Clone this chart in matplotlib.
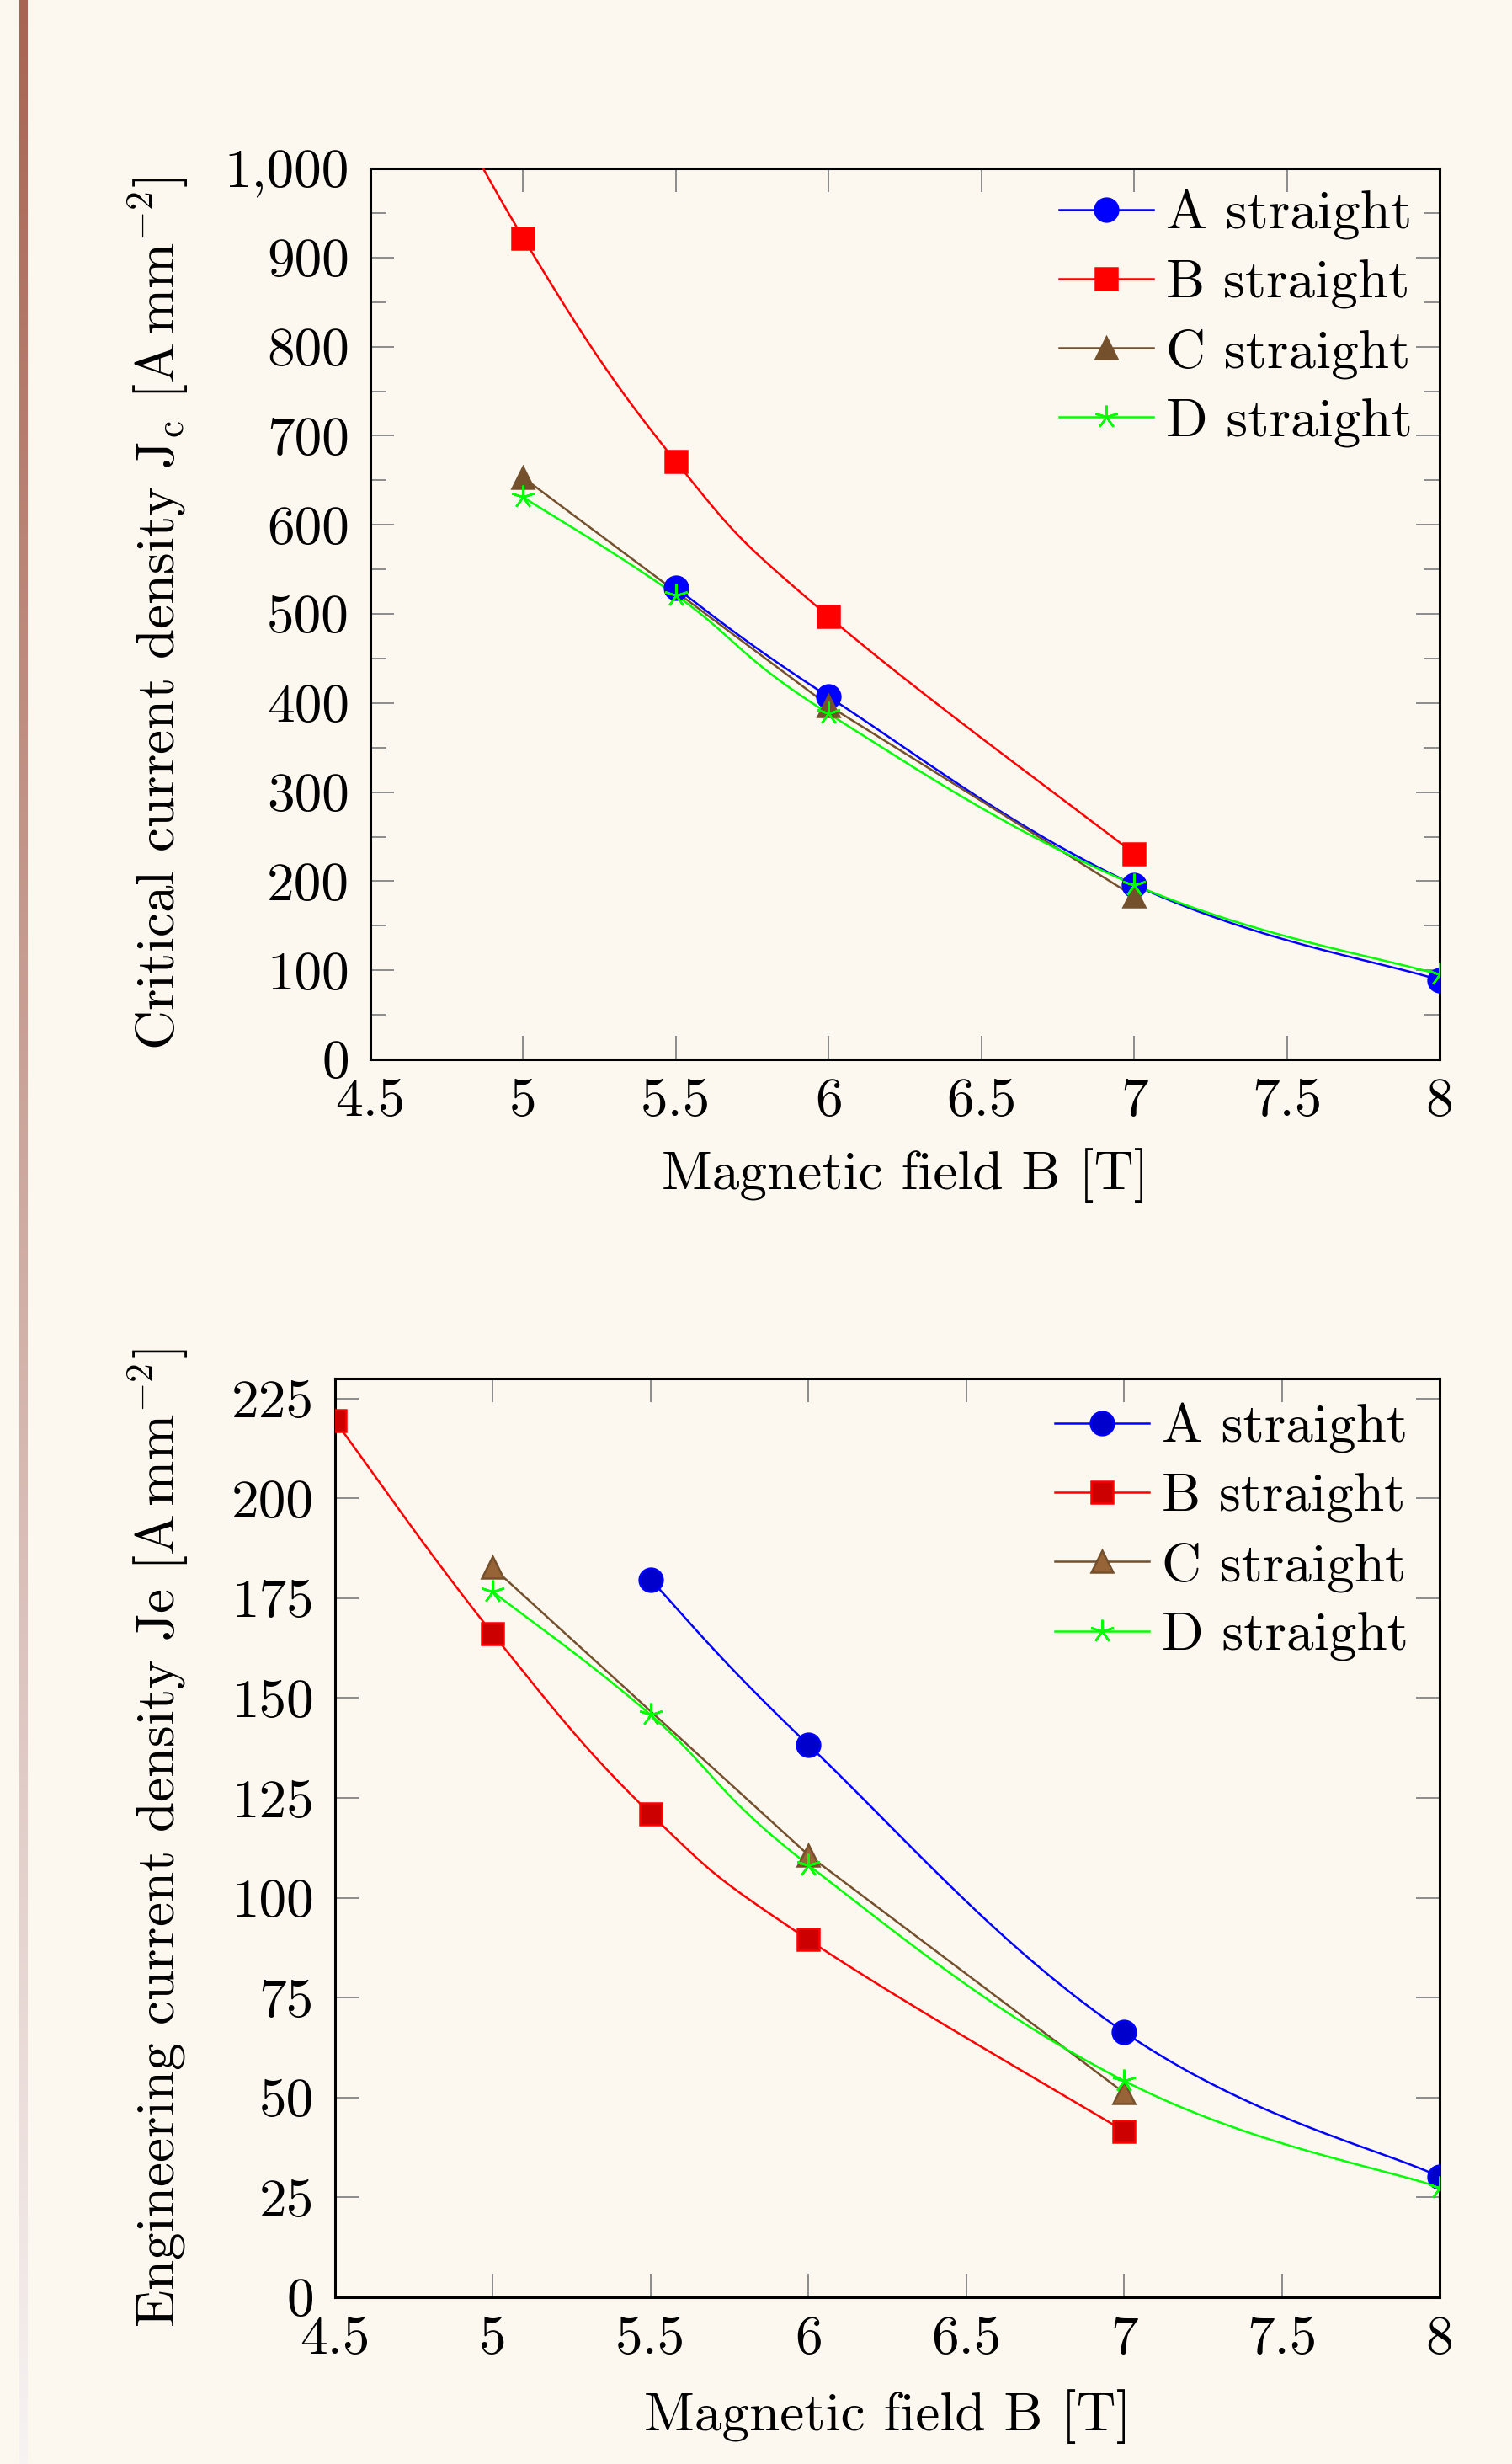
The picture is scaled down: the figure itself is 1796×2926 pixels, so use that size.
import numpy as np
import matplotlib.pyplot as plt
from matplotlib.lines import Line2D
from matplotlib.ticker import MultipleLocator, FuncFormatter

plt.rcParams['font.family'] = 'serif'
plt.rcParams['font.serif'] = ['cmr10']
plt.rcParams['mathtext.fontset'] = 'cm'
plt.rcParams['axes.formatter.use_mathtext'] = True

# critical current density Jc (top panel)
b_top_a = [5.5, 6, 7, 8]
jc_a = [529, 407, 196, 89]
b_top_b = [4.5, 5, 5.5, 6, 7]
jc_b = [1240, 922, 671, 497, 231]
b_top_c = [5, 6, 7]
jc_c = [653, 397, 183]
b_top_d = [5, 5.5, 6, 7, 8]
jc_d = [631, 521, 388, 196, 95]

# engineering current density Je (bottom panel)
b_bot_a = [5.5, 6, 7, 8]
je_a = [179.6, 138.3, 66.4, 30.2]
b_bot_b = [4.5, 5, 5.5, 6, 7]
je_b = [219.4, 166.1, 121.0, 89.5, 41.6]
b_bot_c = [5, 6, 7]
je_c = [182.7, 110.7, 51.2]
b_bot_d = [5, 5.5, 6, 7, 8]
je_d = [176.6, 145.8, 108.2, 54.2, 27.5]

labels = ['A straight', 'B straight', 'C straight', 'D straight']
x_ticks = [4.5, 5, 5.5, 6, 6.5, 7, 7.5, 8]

BG = '#FCF8F0'
FS = 23.5
TICK_GREY = '#8C8C8C'


def smooth(x, y, t=0.2, n=40):
    # cardinal spline through the points, like pgfplots "smooth"
    p = np.column_stack([x, y]).astype(float)
    out = [p[:1]]
    for i in range(len(p) - 1):
        prev = p[max(i - 1, 0)]
        nxt = p[min(i + 2, len(p) - 1)]
        c1 = p[i] + t * (p[i + 1] - prev)
        c2 = p[i + 1] - t * (nxt - p[i])
        s = np.linspace(0, 1, n)[1:, None]
        seg = ((1 - s) ** 3 * p[i] + 3 * (1 - s) ** 2 * s * c1
               + 3 * (1 - s) * s ** 2 * c2 + s ** 3 * p[i + 1])
        out.append(seg)
    return np.vstack(out)


def draw_series(ax, x, y, color, marker, ms, fill, is_smooth=True):
    if is_smooth:
        pts = smooth(x, y)
        ax.plot(pts[:, 0], pts[:, 1], color=color, lw=0.9, zorder=3)
    else:
        ax.plot(x, y, color=color, lw=0.9, zorder=3)
    ax.plot(x, y, linestyle='none', marker=marker, ms=ms, mfc=fill,
            mec=color, mew=0.9, zorder=4)
    return Line2D([], [], color=color, lw=0.9, marker=marker, ms=ms,
                  mfc=fill, mec=color, mew=0.9)


def style_axes(ax, ymax, ymajor, yminor, yfmt):
    ax.set_facecolor(BG)
    ax.set_xlim(4.5, 8)
    ax.set_ylim(0, ymax)
    ax.set_xticks(x_ticks)
    ax.xaxis.set_major_formatter(FuncFormatter(lambda v, p: '%g' % v))
    ax.yaxis.set_major_locator(MultipleLocator(ymajor))
    if yminor:
        ax.yaxis.set_minor_locator(MultipleLocator(yminor))
    ax.yaxis.set_major_formatter(FuncFormatter(yfmt))
    ax.tick_params(which='both', direction='in', top=True, right=True,
                   color=TICK_GREY, width=0.7, labelsize=FS)
    ax.tick_params(which='major', length=10)
    ax.tick_params(which='minor', length=6.8)
    ax.tick_params(axis='y', pad=9)
    ax.tick_params(axis='x', pad=8)
    for sp in ax.spines.values():
        sp.set_linewidth(1.1)
        sp.set_color('black')


def add_legend(ax, handles, anchor):
    ax.legend(handles, labels, loc='upper right', bbox_to_anchor=anchor,
              frameon=False, fontsize=FS, borderpad=0, borderaxespad=0,
              handlelength=1.72, handletextpad=0.23, labelspacing=0.35)


fig = plt.figure(figsize=(8.98, 14.63), dpi=200, facecolor=BG)

# left decorative bar with fading colour
bar = fig.add_axes([23 / 1796, 0, 10 / 1796, 1])
top_c = np.array([168, 100, 82]) / 255
bot_c = np.array([247, 243, 243]) / 255
f = np.linspace(0, 1, 300)[:, None]
grad = (1 - f) * top_c + f * bot_c
bar.imshow(grad[:, None, :], aspect='auto', extent=[0, 1, 0, 1])
bar.axis('off')

# top panel
ax1 = fig.add_axes([440 / 1796, 1 - 1258 / 2926, 1270 / 1796, 1058 / 2926])
h = [
    draw_series(ax1, b_top_a, jc_a, '#0000FF', 'o', 10, '#0000FF'),
    draw_series(ax1, b_top_b, jc_b, '#FF0000', 's', 9.5, '#FF0000'),
    draw_series(ax1, b_top_c, jc_c, '#74502C', '^', 9.5, '#74502C', False),
    draw_series(ax1, b_top_d, jc_d, '#00FF00', (5, 2, 0), 10, '#00FF00'),
]
style_axes(ax1, 1000, 100, 50, lambda v, p: f'{v:,.0f}')
ax1.set_xlabel('Magnetic field B [T]', fontsize=FS)
ax1.set_ylabel(r'Critical current density J$_\mathrm{c}$ [A$\,$mm$^{-2}$]',
               fontsize=FS)
ax1.xaxis.set_label_coords(0.5, -0.1304)
ax1.xaxis.label.set_va('center')
ax1.yaxis.set_label_coords(-0.1992, 0.5)
ax1.yaxis.label.set_va('center')
add_legend(ax1, h, (0.975, 0.976))

# bottom panel
ax2 = fig.add_axes([398 / 1796, 1 - 2728 / 2926, 1312 / 1796, 1091 / 2926])
h = [
    draw_series(ax2, b_bot_a, je_a, '#0000FF', 'o', 10, '#0000CC'),
    draw_series(ax2, b_bot_b, je_b, '#FF0000', 's', 9.5, '#CC0000'),
    draw_series(ax2, b_bot_c, je_c, '#74502C', '^', 9.5, '#966437', False),
    draw_series(ax2, b_bot_d, je_d, '#00FF00', (5, 2, 0), 10, '#00FF00'),
]
style_axes(ax2, 230, 25, None, lambda v, p: '%g' % v)
ax2.set_xlabel('Magnetic field B [T]', fontsize=FS)
ax2.set_ylabel(r'Engineering current density Je [A$\,$mm$^{-2}$]',
               fontsize=FS)
ax2.xaxis.set_label_coords(0.5, -0.130)
ax2.xaxis.label.set_va('center')
ax2.yaxis.set_label_coords(-0.1608, 0.5)
ax2.yaxis.label.set_va('center')
add_legend(ax2, h, (0.972, 0.973))

fig.savefig('out.png', dpi=200, facecolor=BG)
